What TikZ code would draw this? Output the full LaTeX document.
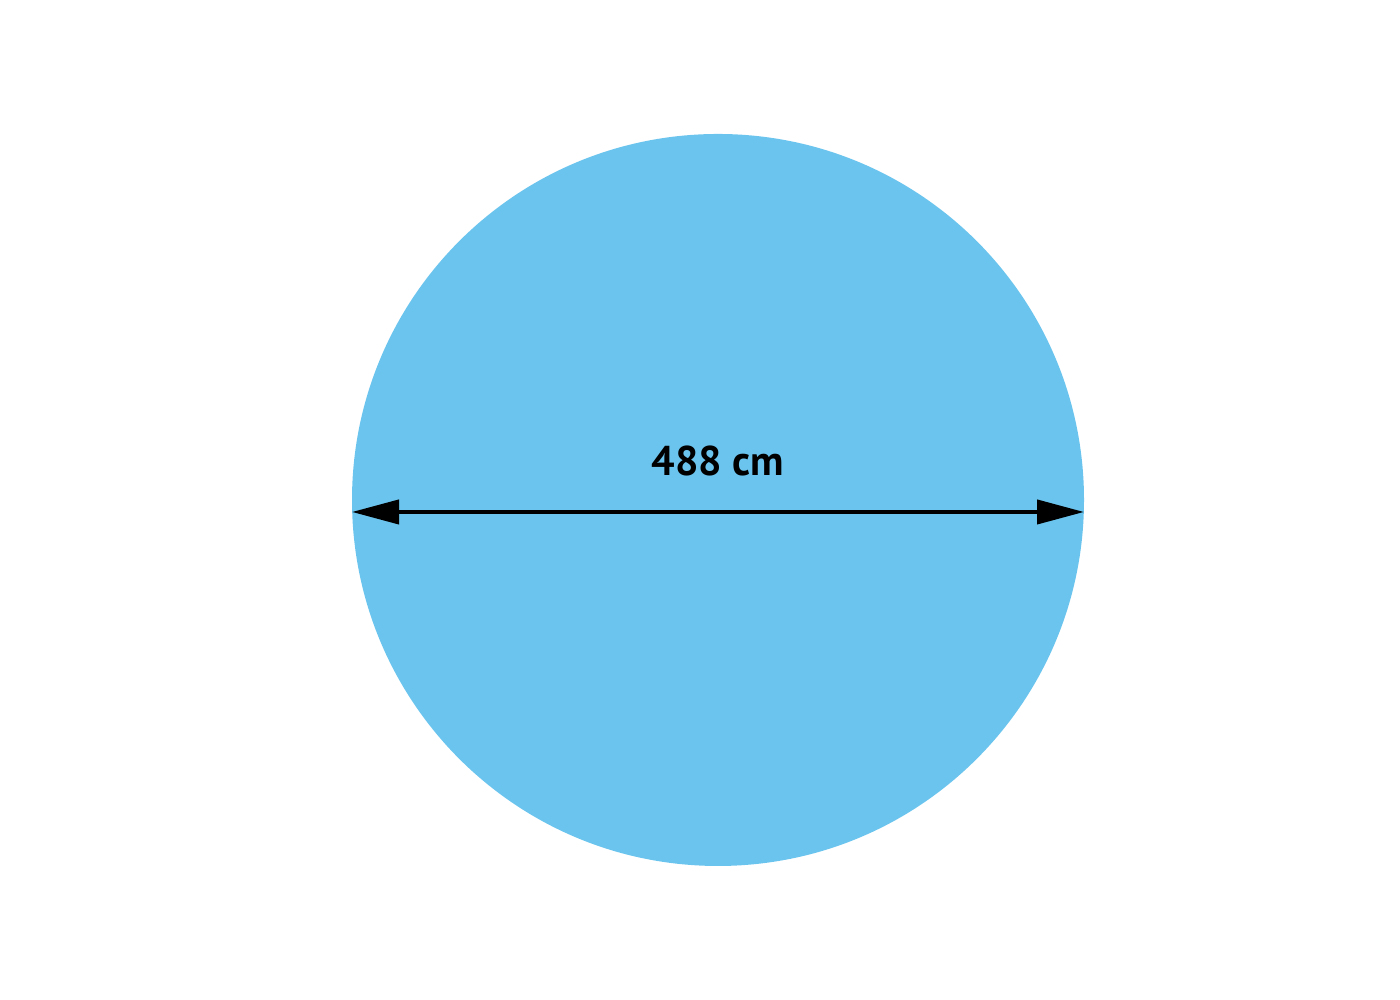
\documentclass[tikz,border=0pt]{standalone}
\usepackage{fontspec}
\setmainfont{PT Sans}
\usetikzlibrary{arrows.meta}
\definecolor{poolblue}{RGB}{107,196,237}
\begin{document}
\begin{tikzpicture}
\useasboundingbox (0,0) rectangle (14,10);
\node[shape=circle, fill=poolblue, minimum size=7.32cm, inner sep=0pt] (pool) at (7.18,5) {};
\coordinate (L) at (3.52,4.88);
\coordinate (R) at (10.84,4.88);
\draw [{Triangle[length=4.7mm,width=2.4mm]}-{Triangle[length=4.7mm,width=2.4mm]}, line width=1.15pt, draw=black] (L) -- (R);
\node[font=\bfseries\fontsize{11.8}{14}\selectfont, inner sep=0pt] (size) at (7.18,5.39) {488 cm};
\end{tikzpicture}
\end{document}
